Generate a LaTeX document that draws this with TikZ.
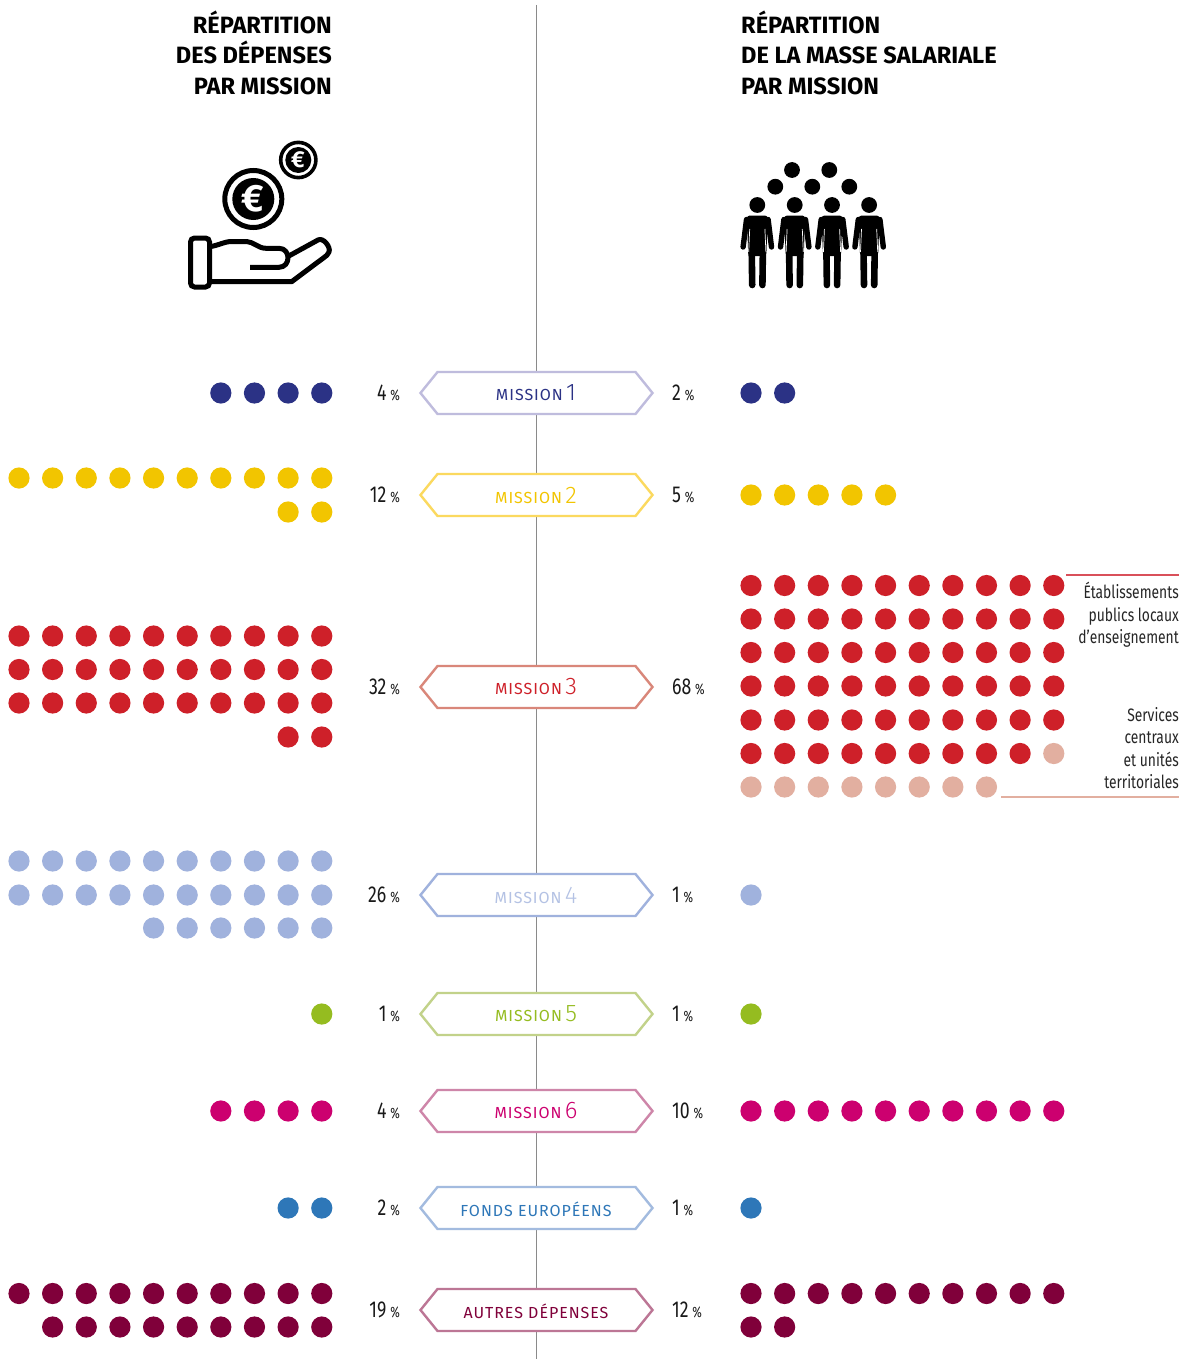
\documentclass[tikz,border=0pt]{standalone}
\usepackage{fontspec}
\usetikzlibrary{shapes.symbols}
\setmainfont{Fira Sans}
\newfontfamily\condf[FakeStretch=0.77]{Fira Sans}
\newfontfamily\capsf[LetterSpace=6]{Fira Sans}
\newfontfamily\digf{Fira Sans Light}
\newfontfamily\boldf{Fira Sans}[UprightFont=* Bold]
\definecolor{navy}{HTML}{2B3285}\definecolor{navyb}{HTML}{BFBCDD}
\definecolor{yel}{HTML}{F2C500}\definecolor{yelb}{HTML}{FBD95F}
\definecolor{rd}{HTML}{CE2029}\definecolor{rdb}{HTML}{D9877A}
\definecolor{peri}{HTML}{A0B2DD}\definecolor{perit}{HTML}{B4C2E4}
\definecolor{grn}{HTML}{95BC20}\definecolor{grnb}{HTML}{C2D28A}
\definecolor{mag}{HTML}{CC006F}\definecolor{magb}{HTML}{CE86A9}
\definecolor{blu}{HTML}{2E77B8}\definecolor{blub}{HTML}{A3BBDF}
\definecolor{plum}{HTML}{80003A}\definecolor{plumb}{HTML}{BC7695}
\definecolor{pale}{HTML}{E2AFA0}
\definecolor{axisgrey}{HTML}{8A8A8A}
\definecolor{rulered}{HTML}{D9505A}\definecolor{rulepale}{HTML}{E2AFA0}
\tikzset{
  hexa/.style={shape=signal,signal to=west and east,signal pointer angle=102,draw=#1,line width=2.4pt,fill=white,
    minimum width=232pt,minimum height=42pt,inner sep=0pt,outer sep=0pt},
  pctl/.style={anchor=base east,inner sep=0pt,text=black!90},
  pctr/.style={anchor=base west,inner sep=0pt,text=black!90},
  titlefont/.style={font=\boldf\fontsize{23.6}{31}\selectfont},
  titl/.style={titlefont,anchor=base east,inner sep=0pt},
  titr/.style={titlefont,anchor=base west,inner sep=0pt},
  note/.style={align=right,anchor=base east,inner sep=0pt,font=\condf\fontsize{18}{22}\selectfont,text=black!85},
  redrule/.style={draw=rulered,line width=1.1pt},
  palerule/.style={draw=rulepale,line width=1.1pt},
}
\newcommand{\pc}[1]{{\condf\fontsize{23}{23}\selectfont #1\,\fontsize{15}{15}\selectfont\%}}
\newcommand{\ml}[2]{{\capsf\fontsize{16}{18}\selectfont #1}\ifx&#2&\else\,\,{\digf\fontsize{24}{24}\selectfont #2}\fi}
\newcommand{\dotrow}[4]{\foreach \k in {#3}{\fill[#4] ({#1+33.64*\k},#2) circle (10.6);}}
\begin{document}
\begin{tikzpicture}[x=1pt,y=-1pt]
\useasboundingbox (0,0) rectangle (1193,1359);
\fill[white] (0,0) rectangle (1193,1359);
% axis
\coordinate (axT) at (536.5,5);
\coordinate (axB) at (536.5,1359);
\draw[axisgrey,line width=1pt] (axT) -- (axB);
% note rules
\coordinate (n1a) at (1066,575);\coordinate (n1b) at (1179,575);
\coordinate (n2a) at (1001,797);\coordinate (n2b) at (1179,797);
\path[redrule] (n1a) -- (n1b);
\path[palerule] (n2a) -- (n2b);
% titles
\node[titl] (t1) at (332,34) {R\'EPARTITION};
\node[titl] (t2) at (332,64) {DES D\'EPENSES};
\node[titl] (t3) at (332,95) {PAR MISSION};
\node[titr] (r1) at (741,34) {R\'EPARTITION};
\node[titr] (r2) at (741,64) {DE LA MASSE SALARIALE};
\node[titr] (r3) at (741,95) {PAR MISSION};
% coins
\draw[black,line width=5pt,fill=white] (253.3,199) circle (28.5);
\fill[black] (253.3,199) circle (21);
\node[text=white,inner sep=0pt,font=\boldf\fontsize{38}{38}\selectfont] (e1) at (253,199) {€};
\draw[black,line width=3.6pt,fill=white] (298.3,160) circle (17.6);
\fill[black] (298.3,160) circle (13);
\node[text=white,inner sep=0pt,font=\boldf\fontsize{23}{23}\selectfont] (e2) at (298,160) {€};
% hand
\draw[black,line width=5pt,rounded corners=4pt] (190.5,238) rectangle (209.5,287);
\draw[black,line width=5pt,line join=round,line cap=butt]
  (210,246.7) .. controls (220,245) and (224,241.5) .. (232,241.5)
  -- (246.7,241.5) .. controls (254,242) and (258,248.3) .. (266,248.3)
  -- (279,248.3) .. controls (291,248.3) and (291,267.3) .. (279,267.3) -- (250,267.3);
\draw[black,line width=5pt,line join=round]
  (287,257) -- (318,240) .. controls (323,237) and (331,247) .. (329,252)
  .. controls (328,255) and (326,256) .. (324,257.5)
  -- (291.7,281.7) -- (210,281.7);
% people
\foreach \cx in {757.3,794.7,832,869.1}{
  \fill[black] (\cx,205) circle (7.9);
  \fill[black,rounded corners=3pt] ({\cx-10.5},215.5) -- ({\cx+10.5},215.5) -- ({\cx+9},256) -- ({\cx-9},256) -- cycle;
  \draw[black,line width=6.6pt,line cap=round] ({\cx-5.6},250) -- ({\cx-5.1},285);
  \draw[black,line width=6.6pt,line cap=round] ({\cx+5.6},250) -- ({\cx+5.1},285);
  \draw[black,line width=5.4pt,line cap=round] ({\cx-10.8},219.5) -- ({\cx-14.2},247);
  \draw[black,line width=5.4pt,line cap=round] ({\cx+10.8},219.5) -- ({\cx+14.2},247);
  \draw[white,line width=.7pt] ({\cx-7.6},229) -- ({\cx-8.6},252);
  \draw[white,line width=.7pt] ({\cx+7.6},229) -- ({\cx+8.6},252);
  \fill[white] (\cx,256) -- ({\cx+.9},289) -- ({\cx-.9},289) -- cycle;
}
\foreach \p in {(792,170),(829.3,170),(775.3,186.7),(812.3,186.7),(849.3,186.7)}{\fill[black] \p circle (7.9);}
% hexagons
\node[hexa=navyb] (m1) at (536.5,393) {};
\node[text=navy,inner sep=0pt] (m1t) at (536,393) {\ml{MISSION}{1}};
\node[hexa=yelb] (m2) at (536.5,495) {};
\node[text=yel,inner sep=0pt] (m2t) at (536,495) {\ml{MISSION}{2}};
\node[hexa=rdb] (m3) at (536.5,687) {};
\node[text=rd,inner sep=0pt] (m3t) at (536,687) {\ml{MISSION}{3}};
\node[hexa=peri] (m4) at (536.5,895) {};
\node[text=perit,inner sep=0pt] (m4t) at (536,895) {\ml{MISSION}{4}};
\node[hexa=grnb] (m5) at (536.5,1014) {};
\node[text=grn,inner sep=0pt] (m5t) at (536,1014) {\ml{MISSION}{5}};
\node[hexa=magb] (m6) at (536.5,1111) {};
\node[text=mag,inner sep=0pt] (m6t) at (536,1111) {\ml{MISSION}{6}};
\node[hexa=blub] (m7) at (536.5,1208) {};
\node[text=blu,inner sep=0pt] (m7t) at (536,1209) {\ml{FONDS EUROP\'EENS}{}};
\node[hexa=plumb] (m8) at (536.5,1310) {};
\node[text=plum,inner sep=0pt] (m8t) at (536,1311.5) {\ml{AUTRES D\'EPENSES}{}};
% percentages
\foreach \nm/\y/\l/\r in {a/400/4/2,b/502/12/5,c/694/32/68,d/902/26/1,e/1021/1/1,f/1118/4/10,g/1215/2/1,h/1317/19/12}{
  \node[pctl] (pl\nm) at (400,\y) {\pc{\l}};
  \node[pctr] (pr\nm) at (672,\y) {\pc{\r}};
}
% left dots
\def\LX{19}\def\RX{751}
\dotrow{\LX}{393}{6,...,9}{navy}
\dotrow{\LX}{478}{0,...,9}{yel}
\dotrow{\LX}{512}{8,9}{yel}
\dotrow{\LX}{636}{0,...,9}{rd}
\dotrow{\LX}{669.5}{0,...,9}{rd}
\dotrow{\LX}{703}{0,...,9}{rd}
\dotrow{\LX}{737}{8,9}{rd}
\dotrow{\LX}{861}{0,...,9}{peri}
\dotrow{\LX}{895}{0,...,9}{peri}
\dotrow{\LX}{928}{4,...,9}{peri}
\dotrow{\LX}{1014}{9}{grn}
\dotrow{\LX}{1111}{6,...,9}{mag}
\dotrow{\LX}{1208}{8,9}{blu}
\dotrow{\LX}{1293.5}{0,...,9}{plum}
\dotrow{\LX}{1327}{1,...,9}{plum}
% right dots
\dotrow{\RX}{393}{0,1}{navy}
\dotrow{\RX}{495}{0,...,4}{yel}
\dotrow{\RX}{585.5}{0,...,9}{rd}
\dotrow{\RX}{619}{0,...,9}{rd}
\dotrow{\RX}{652.5}{0,...,9}{rd}
\dotrow{\RX}{686}{0,...,9}{rd}
\dotrow{\RX}{720}{0,...,9}{rd}
\dotrow{\RX}{753.5}{0,...,8}{rd}
\dotrow{\RX}{753.5}{9}{pale}
\dotrow{\RX}{787}{0,...,7}{pale}
\dotrow{\RX}{895}{0}{peri}
\dotrow{\RX}{1014}{0}{grn}
\dotrow{\RX}{1111}{0,...,9}{mag}
\dotrow{\RX}{1208}{0}{blu}
\dotrow{\RX}{1293.5}{0,...,9}{plum}
\dotrow{\RX}{1327}{0,1}{plum}
% notes
\node[note] (n1) at (1179,598) {\'Etablissements};
\node[note] (n2) at (1179,621) {publics locaux};
\node[note] (n3) at (1179,643) {d’enseignement};
\node[note] (n4) at (1179,721) {Services};
\node[note] (n5) at (1179,743) {centraux};
\node[note] (n6) at (1179,766) {et unit\'es};
\node[note] (n7) at (1179,788) {territoriales};
\end{tikzpicture}
\end{document}
